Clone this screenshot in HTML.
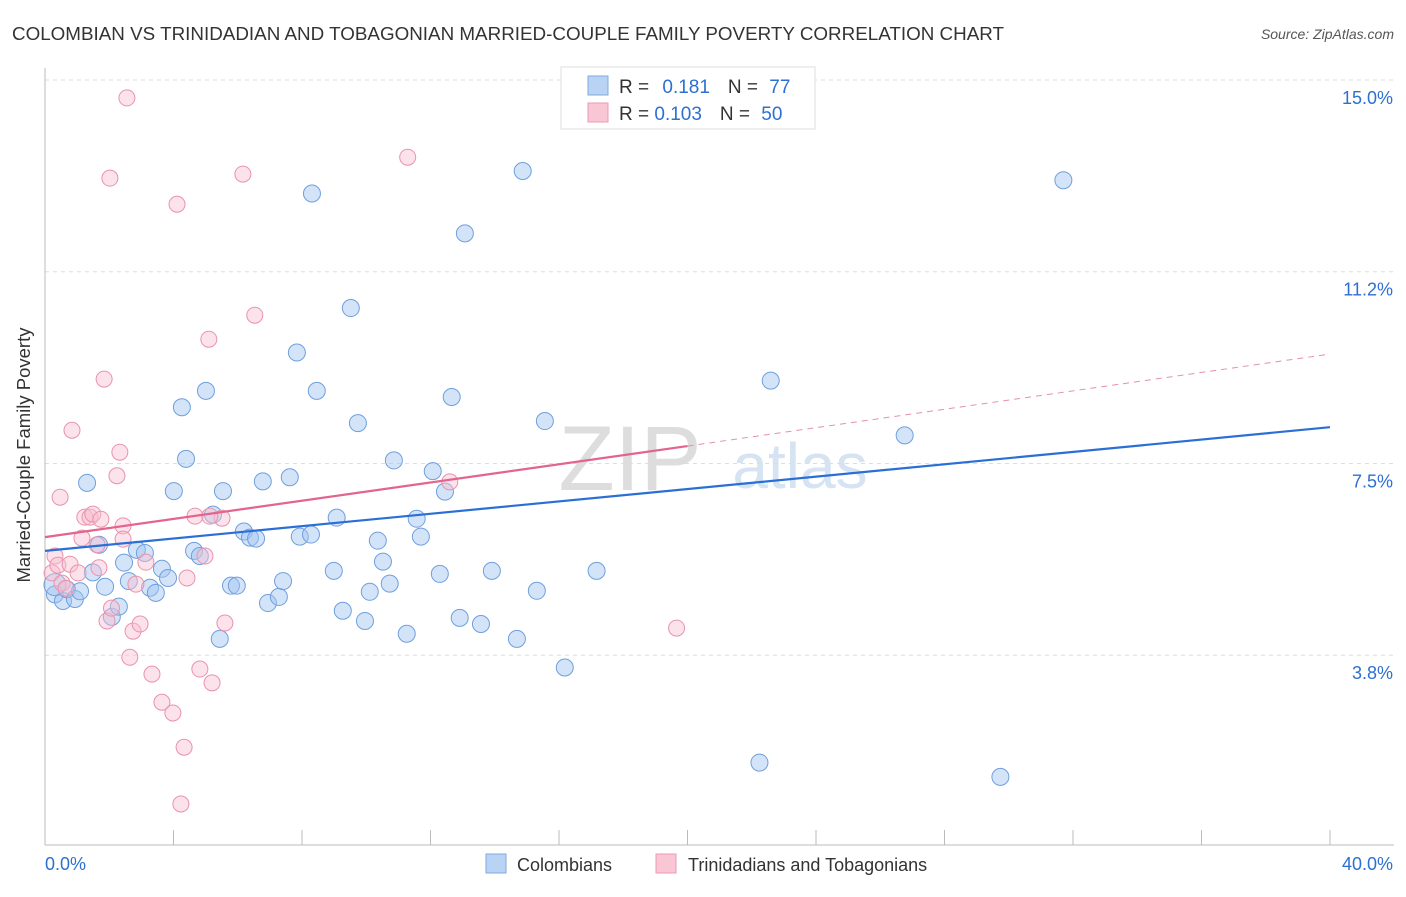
<!DOCTYPE html>
<html><head><meta charset="utf-8"><style>
body{margin:0;background:#fff;font-family:"Liberation Sans",sans-serif}
svg text{font-family:"Liberation Sans",sans-serif}
</style></head><body>
<svg id="c" width="1406" height="892">
<text x="12" y="40" font-size="18" textLength="992" lengthAdjust="spacingAndGlyphs" fill="#333">COLOMBIAN VS TRINIDADIAN AND TOBAGONIAN MARRIED-COUPLE FAMILY POVERTY CORRELATION CHART</text>
<text x="1394" y="39" font-size="14" font-style="italic" fill="#555" text-anchor="end">Source: ZipAtlas.com</text>
<text x="630" y="490" font-size="92" font-family="Liberation Serif" fill="#ddd" text-anchor="middle">ZIP</text>
<text x="800" y="488" font-size="64" fill="#d5e3f3" text-anchor="middle">atlas</text>
<g id="grid"></g><g id="pts"></g><g id="lines"></g>
<text x="30" y="455" font-size="18.5" fill="#333" text-anchor="middle" transform="rotate(-90 30 455)">Married-Couple Family Poverty</text>
<g>
<rect x="561" y="67" width="254" height="62" fill="#fff" stroke="#ddd"/>
<rect x="588" y="76" width="20" height="19" fill="#b8d3f4" stroke="#7fa9de"/>
<rect x="588" y="103" width="20" height="19" fill="#f8c6d5" stroke="#eb9ab2"/>
<text x="619" y="93" font-size="19" fill="#333">R = <tspan fill="#2d6fd2" dx="8">0.181</tspan><tspan dx="18" fill="#333">N = </tspan><tspan fill="#2d6fd2" dx="6">77</tspan></text>
<text x="619" y="120" font-size="19" fill="#333">R = <tspan fill="#2d6fd2">0.103</tspan><tspan dx="18" fill="#333">N = </tspan><tspan fill="#2d6fd2" dx="6">50</tspan></text>
</g>
<g>
<rect x="486" y="854" width="20" height="19" fill="#b8d3f4" stroke="#7fa9de"/>
<text x="517" y="871" font-size="18" fill="#333">Colombians</text>
<rect x="656" y="854" width="20" height="19" fill="#f8c6d5" stroke="#eb9ab2"/>
<text x="688" y="871" font-size="18" fill="#333">Trinidadians and Tobagonians</text>
</g>
</svg>
<script>
const yTicks=[15,11.25,7.5,3.75];
const yTickLabels=["15.0%","11.2%","7.5%","3.8%"];
const xTicks=[0,4,8,12,16,20,24,28,32,36,40];
const blueX=[0.31,0.56,0.68,0.93,1.09,1.31,1.49,1.68,1.87,2.08,2.30,2.46,2.61,2.86,3.11,3.27,3.45,3.64,3.83,4.01,4.26,4.39,4.64,4.82,5.01,5.23,5.44,5.54,5.79,5.97,6.19,6.38,6.57,6.78,6.94,7.28,7.41,7.62,7.84,7.93,8.28,8.31,8.46,8.99,9.08,9.27,9.52,9.74,9.96,10.11,10.36,10.52,10.73,10.86,11.26,11.57,11.70,12.07,12.29,12.45,12.66,12.91,13.07,13.57,13.91,14.69,14.87,15.31,15.56,16.18,17.17,22.24,22.59,26.76,29.74,31.70,0.31];
const blueY=[4.94,4.81,5.04,4.85,5.00,7.12,5.37,5.91,5.09,4.50,4.70,5.56,5.20,5.81,5.75,5.07,4.97,5.44,5.26,6.96,8.60,7.59,5.79,5.69,8.92,6.50,4.07,6.96,5.11,5.11,6.17,6.05,6.03,7.15,4.77,4.89,5.20,7.23,9.67,6.07,6.11,12.78,8.92,5.40,6.44,4.62,10.54,8.29,4.42,4.99,5.99,5.58,5.15,7.56,4.17,6.42,6.07,7.35,5.34,6.95,8.80,4.48,12.00,4.36,5.40,4.07,13.22,5.01,8.33,3.51,5.40,1.65,9.12,8.05,1.37,13.04,5.13];
const pinkX=[0.22,0.31,0.40,0.47,0.53,0.65,0.78,0.84,1.03,1.15,1.24,1.40,1.49,1.62,1.68,1.74,1.84,1.93,2.02,2.07,2.24,2.33,2.43,2.43,2.55,2.64,2.74,2.83,2.96,3.14,3.33,3.64,3.98,4.11,4.23,4.33,4.42,4.67,4.82,4.98,5.10,5.20,5.51,5.60,6.16,6.53,11.29,12.60,19.66,5.13];
const pinkY=[5.36,5.69,5.51,6.84,5.16,5.06,5.53,8.15,5.36,6.04,6.45,6.45,6.51,5.91,5.46,6.41,9.15,4.42,13.08,4.67,7.26,7.72,6.28,6.02,14.65,3.71,4.22,5.14,4.36,5.57,3.38,2.83,2.62,12.57,0.84,1.95,5.26,6.47,3.48,5.69,9.93,3.21,6.43,4.38,13.16,10.40,13.49,7.14,4.28,6.47];
const blueLine=[[0,5.79],[40,8.21]];
const pinkLine=[[0,6.06],[20,7.84]];
const pinkDash=[[20,7.84],[40,9.64]];
const X=p=>45+p*32.125, Y=v=>80+(15-v)*51.13;
const NS="http://www.w3.org/2000/svg";
function mk(t,a,parent){const e=document.createElementNS(NS,t);for(const k in a)e.setAttribute(k,a[k]);document.getElementById(parent).appendChild(e);return e;}
yTicks.forEach((v,i)=>{
 const g=mk('line',{x1:45,x2:1394,y1:Y(v),y2:Y(v),stroke:'#ddd','stroke-dasharray':'4,4'},'grid');
 
 
 const t=mk('text',{x:1393,y:Y(v)+24,'font-size':18,fill:'#2d6fd2','text-anchor':'end'},'grid');t.textContent=yTickLabels[i];
 
 
});
const ax=mk('line',{x1:45,x2:45,y1:68,y2:845,stroke:'#bbb'},'grid');


const bx=mk('line',{x1:45,x2:1394,y1:845,y2:845,stroke:'#bbb'},'grid');


xTicks.forEach(p=>{const t=mk('line',{x1:X(p),x2:X(p),y1:830,y2:845,stroke:'#bbb'},'grid');
 
 });
[["0.0%",45,'start'],["40.0%",1393,'end']].forEach(([s,x,a])=>{const t=mk('text',{x:x,y:870,'font-size':18,fill:'#2d6fd2','text-anchor':a},'grid');t.textContent=s;
 
 });
blueX.forEach((x,i)=>{const c=mk('circle',{cx:X(x),cy:Y(blueY[i]),r:i==76?11:8.5,fill:'rgba(160,196,240,0.45)',stroke:'#6f9fde','stroke-width':1},'pts');
 
 });
pinkX.forEach((x,i)=>{const c=mk('circle',{cx:X(x),cy:Y(pinkY[i]),r:8,fill:'rgba(248,190,208,0.45)',stroke:'#e993ae','stroke-width':1},'pts');
 
 });
function ln(d,col,w,dash,name){const l=mk('line',{x1:X(d[0][0]),y1:Y(d[0][1]),x2:X(d[1][0]),y2:Y(d[1][1]),stroke:col,'stroke-width':w},'lines');if(dash)l.setAttribute('stroke-dasharray',dash);
 
 }
ln(pinkDash,'#e490ab',1,'6,5','trend-trinidadian-extrapolated');
ln(blueLine,'#2a6fd6',2.2,null,'trend-colombian');
ln(pinkLine,'#e3648d',2.2,null,'trend-trinidadian');
</script>
</body></html>
